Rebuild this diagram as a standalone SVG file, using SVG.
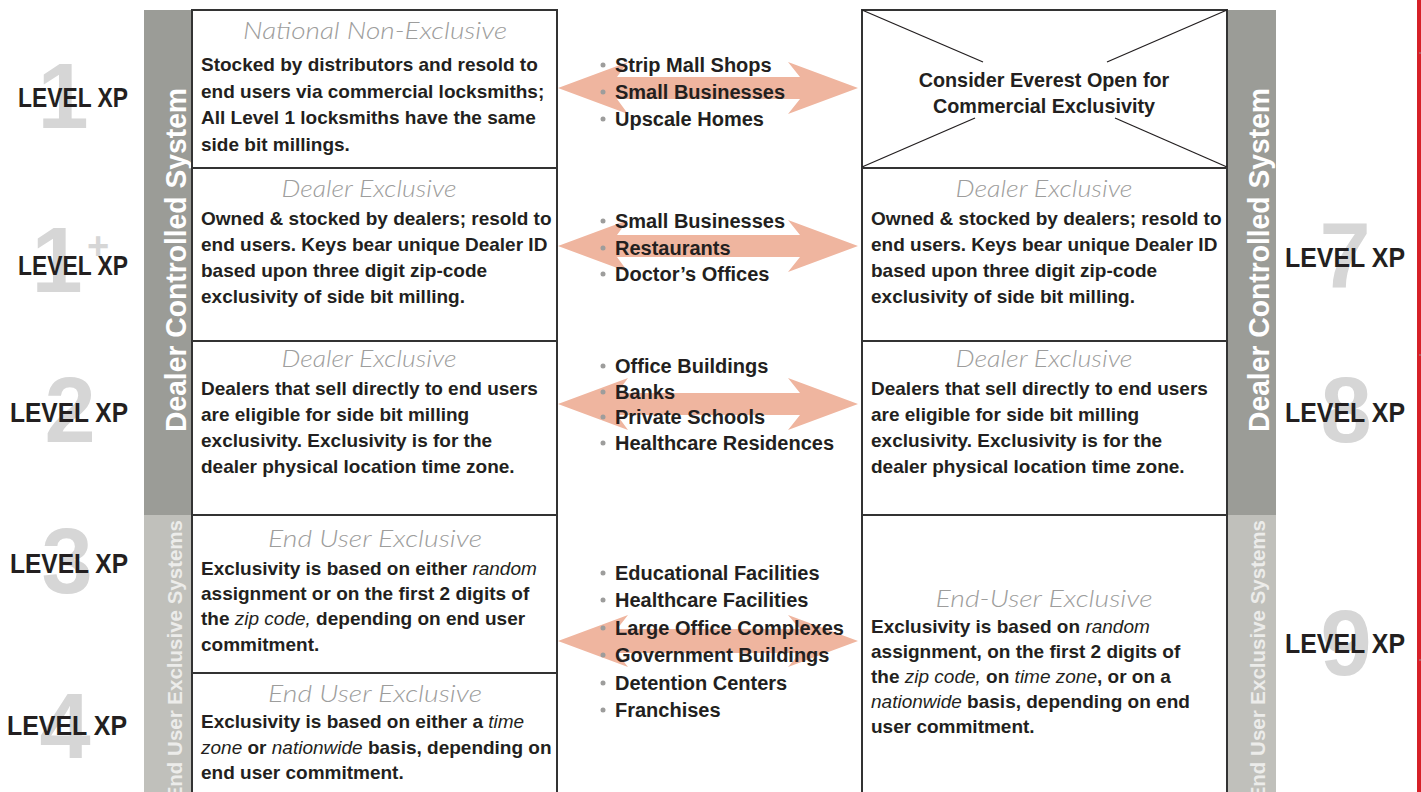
<svg xmlns="http://www.w3.org/2000/svg" width="1421" height="792" viewBox="0 0 1421 792">
<style>
.body{font-family:"Liberation Sans",Arial,sans-serif;font-weight:bold;font-size:19px;fill:#231f20}
.it{font-style:italic;font-weight:normal}
.title{font-family:"Lato","Liberation Sans",sans-serif;font-style:italic;font-weight:300;font-size:23px;fill:#9d9d9c;text-anchor:middle}
.bul{font-family:"Liberation Sans",Arial,sans-serif;font-weight:bold;font-size:20px;fill:#231f20}
.dot{fill:#9d9d9c}
.lvl{font-family:"Liberation Sans",Arial,sans-serif;font-weight:bold;font-size:28px;fill:#231f20}
.num{font-family:"Liberation Sans",Arial,sans-serif;font-weight:bold;font-size:92px;fill:#d6d6d6;text-anchor:middle}
.vbar{font-family:"Liberation Sans",Arial,sans-serif;font-weight:bold;font-size:29px;fill:#ffffff}
.vbar2{font-family:"Liberation Sans",Arial,sans-serif;font-weight:bold;font-size:20.5px;fill:#ececea;text-anchor:end}
.box{fill:#ffffff;stroke:#333333;stroke-width:2}
.arrow{fill:#efb59f}
.xline{stroke:#231f20;stroke-width:1.3}
</style>

<g id="red-edge">
<rect x="1417" y="0" width="4" height="792" fill="#d62028"/>
<line x1="1419" y1="53" x2="1421" y2="53" stroke="#999" stroke-width="1"/>
<line x1="1419" y1="355" x2="1421" y2="355" stroke="#999" stroke-width="1"/>
<line x1="1419" y1="660" x2="1421" y2="660" stroke="#999" stroke-width="1"/>
</g>

<g id="left-bar">
<rect x="144" y="10" width="47" height="505" fill="#9b9c97"/>
<rect x="144" y="515" width="47" height="290" fill="#c0c0bb"/>
<text class="vbar" transform="translate(186,432) rotate(-90)" textLength="344" lengthAdjust="spacingAndGlyphs">Dealer Controlled System</text>
<text class="vbar2" transform="translate(182,520) rotate(-90)">End User Exclusive Systems</text>
</g>

<g id="right-bar">
<rect x="1227" y="10" width="49" height="505" fill="#9b9c97"/>
<rect x="1227" y="515" width="49" height="290" fill="#c0c0bb"/>
<text class="vbar" transform="translate(1269,432) rotate(-90)" textLength="344" lengthAdjust="spacingAndGlyphs">Dealer Controlled System</text>
<text class="vbar2" transform="translate(1265,520) rotate(-90)">End User Exclusive Systems</text>
</g>

<g id="level-1">
<text class="num" x="63" y="128">1</text>
<text class="lvl" x="18" y="107" textLength="110" lengthAdjust="spacingAndGlyphs">LEVEL XP</text>
</g>
<g id="level-1plus">
<text class="num" x="57" y="292">1</text>
<text class="num" x="98" y="259" style="font-size:38px">+</text>
<text class="lvl" x="18" y="275" textLength="110" lengthAdjust="spacingAndGlyphs">LEVEL XP</text>
</g>
<g id="level-2">
<text class="num" x="70" y="442">2</text>
<text class="lvl" x="10" y="422" textLength="118" lengthAdjust="spacingAndGlyphs">LEVEL XP</text>
</g>
<g id="level-3">
<text class="num" x="67" y="593">3</text>
<text class="lvl" x="10" y="573" textLength="118" lengthAdjust="spacingAndGlyphs">LEVEL XP</text>
</g>
<g id="level-4">
<text class="num" x="65" y="758">4</text>
<text class="lvl" x="7" y="735" textLength="120" lengthAdjust="spacingAndGlyphs">LEVEL XP</text>
</g>
<g id="level-7">
<text class="num" x="1345" y="287">7</text>
<text class="lvl" x="1285" y="267" textLength="120" lengthAdjust="spacingAndGlyphs">LEVEL XP</text>
</g>
<g id="level-8">
<text class="num" x="1346" y="442">8</text>
<text class="lvl" x="1285" y="422" textLength="120" lengthAdjust="spacingAndGlyphs">LEVEL XP</text>
</g>
<g id="level-9">
<text class="num" x="1346" y="675">9</text>
<text class="lvl" x="1285" y="653" textLength="120" lengthAdjust="spacingAndGlyphs">LEVEL XP</text>
</g>

<g id="box-l1">
<rect class="box" x="192" y="10" width="365" height="158"/>
<text class="title" x="375" y="39" textLength="264" lengthAdjust="spacingAndGlyphs">National Non-Exclusive</text>
<text class="body" x="201" y="71">Stocked by distributors and resold to</text>
<text class="body" x="201" y="97.5">end users via commercial locksmiths;</text>
<text class="body" x="201" y="124">All Level 1 locksmiths have the same</text>
<text class="body" x="201" y="151">side bit millings.</text>
</g>

<g id="box-l2">
<rect class="box" x="192" y="168" width="365" height="173"/>
<text class="title" x="369" y="197" textLength="175" lengthAdjust="spacingAndGlyphs">Dealer Exclusive</text>
<text class="body" x="201" y="225">Owned &amp; stocked by dealers; resold to</text>
<text class="body" x="201" y="251">end users. Keys bear unique Dealer ID</text>
<text class="body" x="201" y="277">based upon three digit zip-code</text>
<text class="body" x="201" y="303">exclusivity of side bit milling.</text>
</g>

<g id="box-l3">
<rect class="box" x="192" y="341" width="365" height="174"/>
<text class="title" x="369" y="367" textLength="175" lengthAdjust="spacingAndGlyphs">Dealer Exclusive</text>
<text class="body" x="201" y="395">Dealers that sell directly to end users</text>
<text class="body" x="201" y="421">are eligible for side bit milling</text>
<text class="body" x="201" y="447">exclusivity. Exclusivity is for the</text>
<text class="body" x="201" y="473">dealer physical location time zone.</text>
</g>

<g id="box-l4">
<rect class="box" x="192" y="515" width="365" height="158"/>
<text class="title" x="375" y="547" textLength="214" lengthAdjust="spacingAndGlyphs">End User Exclusive</text>
<text class="body" x="201" y="575">Exclusivity is based on either <tspan class="it">random</tspan></text>
<text class="body" x="201" y="600">assignment or on the first 2 digits of</text>
<text class="body" x="201" y="625">the <tspan class="it">zip code,</tspan> depending on end user</text>
<text class="body" x="201" y="651">commitment.</text>
</g>

<g id="box-l5">
<rect class="box" x="192" y="673" width="365" height="130"/>
<text class="title" x="375" y="702" textLength="214" lengthAdjust="spacingAndGlyphs">End User Exclusive</text>
<text class="body" x="201" y="728">Exclusivity is based on either a <tspan class="it">time</tspan></text>
<text class="body" x="201" y="754"><tspan class="it">zone</tspan> or <tspan class="it">nationwide</tspan> basis, depending on</text>
<text class="body" x="201" y="779">end user commitment.</text>
</g>

<g id="box-r1">
<rect class="box" x="862" y="10" width="365" height="158"/>
<line class="xline" x1="862" y1="10" x2="983" y2="62"/>
<line class="xline" x1="1107" y1="62" x2="1227" y2="10"/>
<line class="xline" x1="862" y1="167" x2="975" y2="118"/>
<line class="xline" x1="1115" y1="118" x2="1227" y2="167"/>
<text class="body" x="1044" y="87" text-anchor="middle" style="font-size:19.8px">Consider Everest Open for</text>
<text class="body" x="1044" y="113" text-anchor="middle" style="font-size:19.8px">Commercial Exclusivity</text>
</g>

<g id="box-r2">
<rect class="box" x="862" y="168" width="365" height="173"/>
<text class="title" x="1044" y="197" textLength="177" lengthAdjust="spacingAndGlyphs">Dealer Exclusive</text>
<text class="body" x="871" y="225">Owned &amp; stocked by dealers; resold to</text>
<text class="body" x="871" y="251">end users. Keys bear unique Dealer ID</text>
<text class="body" x="871" y="277">based upon three digit zip-code</text>
<text class="body" x="871" y="303">exclusivity of side bit milling.</text>
</g>

<g id="box-r3">
<rect class="box" x="862" y="341" width="365" height="174"/>
<text class="title" x="1044" y="367" textLength="177" lengthAdjust="spacingAndGlyphs">Dealer Exclusive</text>
<text class="body" x="871" y="395">Dealers that sell directly to end users</text>
<text class="body" x="871" y="421">are eligible for side bit milling</text>
<text class="body" x="871" y="447">exclusivity. Exclusivity is for the</text>
<text class="body" x="871" y="473">dealer physical location time zone.</text>
</g>

<g id="box-r4">
<rect class="box" x="862" y="515" width="365" height="290"/>
<text class="title" x="1044" y="607" textLength="217" lengthAdjust="spacingAndGlyphs">End-User Exclusive</text>
<text class="body" x="871" y="633">Exclusivity is based on <tspan class="it">random</tspan></text>
<text class="body" x="871" y="658">assignment, on the first 2 digits of</text>
<text class="body" x="871" y="683">the <tspan class="it">zip code,</tspan> on <tspan class="it">time zone</tspan>, or on a</text>
<text class="body" x="871" y="708"><tspan class="it">nationwide</tspan> basis, depending on end</text>
<text class="body" x="871" y="733">user commitment.</text>
</g>

<g id="connectors">
<path class="arrow" d="M558,88 L628,62 L617,77 L800,77 L788,62 L858,88 L788,114 L800,99 L617,99 L628,114 Z"/>
<path class="arrow" d="M558,246 L628,220 L617,235 L800,235 L788,220 L858,246 L788,272 L800,257 L617,257 L628,272 Z"/>
<path class="arrow" d="M558,404 L628,378 L617,393 L800,393 L788,378 L858,404 L788,430 L800,415 L617,415 L628,430 Z"/>
<path class="arrow" d="M558,641 L628,615 L617,629 L800,629 L788,615 L858,641 L788,667 L800,653 L617,653 L628,667 Z"/>
</g>

<g id="apps-1">
<circle class="dot" cx="603" cy="65" r="2.5"/><text class="bul" x="615" y="72">Strip Mall Shops</text>
<circle class="dot" cx="603" cy="92" r="2.5"/><text class="bul" x="615" y="99">Small Businesses</text>
<circle class="dot" cx="603" cy="119" r="2.5"/><text class="bul" x="615" y="126">Upscale Homes</text>
</g>
<g id="apps-2">
<circle class="dot" cx="603" cy="221" r="2.5"/><text class="bul" x="615" y="228">Small Businesses</text>
<circle class="dot" cx="603" cy="248" r="2.5"/><text class="bul" x="615" y="255">Restaurants</text>
<circle class="dot" cx="603" cy="274" r="2.5"/><text class="bul" x="615" y="281">Doctor’s Offices</text>
</g>
<g id="apps-3">
<circle class="dot" cx="603" cy="366" r="2.5"/><text class="bul" x="615" y="373">Office Buildings</text>
<circle class="dot" cx="603" cy="392" r="2.5"/><text class="bul" x="615" y="399">Banks</text>
<circle class="dot" cx="603" cy="417" r="2.5"/><text class="bul" x="615" y="424">Private Schools</text>
<circle class="dot" cx="603" cy="443" r="2.5"/><text class="bul" x="615" y="450">Healthcare Residences</text>
</g>
<g id="apps-4">
<circle class="dot" cx="603" cy="573" r="2.5"/><text class="bul" x="615" y="580">Educational Facilities</text>
<circle class="dot" cx="603" cy="600" r="2.5"/><text class="bul" x="615" y="607">Healthcare Facilities</text>
<circle class="dot" cx="603" cy="628" r="2.5"/><text class="bul" x="615" y="635">Large Office Complexes</text>
<circle class="dot" cx="603" cy="655" r="2.5"/><text class="bul" x="615" y="662">Government Buildings</text>
<circle class="dot" cx="603" cy="683" r="2.5"/><text class="bul" x="615" y="690">Detention Centers</text>
<circle class="dot" cx="603" cy="710" r="2.5"/><text class="bul" x="615" y="717">Franchises</text>
</g>
</svg>
